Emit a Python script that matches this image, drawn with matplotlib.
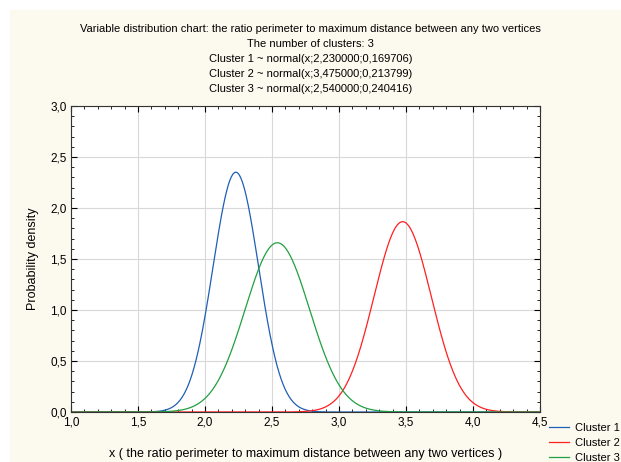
import numpy as np
import matplotlib
matplotlib.use("Agg")
import matplotlib.pyplot as plt
from matplotlib.ticker import MultipleLocator, FuncFormatter
from matplotlib.patches import Rectangle

# cluster parameters as printed in the title
clusters = ["Cluster 1", "Cluster 2", "Cluster 3"]
means = [2.230000, 3.475000, 2.540000]
sds = [0.169706, 0.213799, 0.240416]
colors = ["#1f5fb4", "#ff2020", "#20a040"]

xmin, xmax = 1.0, 4.5
x = np.linspace(xmin, xmax, 700)

plt.rcParams['font.family'] = ['Liberation Sans', 'DejaVu Sans']

fig = plt.figure(figsize=(6.21, 4.62), dpi=100)
fig.patches.append(Rectangle((10 / 621, 0), 611 / 621, 452 / 462,
                             transform=fig.transFigure, color="#fcf9ee", zorder=-10))
ax = fig.add_axes([71 / 621, 1 - 412 / 462, 469 / 621, 306 / 462])
ax.set_facecolor("white")

for name, m, s, c in zip(clusters, means, sds, colors):
    y = np.exp(-0.5 * ((x - m) / s) ** 2) / (s * np.sqrt(2 * np.pi))
    ax.plot(x, y, color=c, lw=0.9, label=name)

ax.set_xlim(xmin, xmax)
ax.set_ylim(0, 3.0)
ax.xaxis.set_major_locator(MultipleLocator(0.5))
ax.yaxis.set_major_locator(MultipleLocator(0.5))
ax.xaxis.set_minor_locator(MultipleLocator(0.1))
ax.yaxis.set_minor_locator(MultipleLocator(0.1))
fmt = FuncFormatter(lambda v, p: f"{v:.1f}".replace(".", ","))
ax.xaxis.set_major_formatter(fmt)
ax.yaxis.set_major_formatter(fmt)
ax.tick_params(which="both", direction="in", top=True, right=True, labelsize=8.5, pad=3)
ax.tick_params(which="major", length=4)
ax.tick_params(which="minor", length=2)
ax.grid(True, which="major", color="#d8d8d8", lw=0.8)
ax.set_axisbelow(True)
for sp in ax.spines.values():
    sp.set_color("#333333")

ax.set_xlabel("x ( the ratio perimeter to maximum distance between any two vertices )", fontsize=9, labelpad=14)
ax.set_ylabel("Probability density", fontsize=9, labelpad=8)

title = ("Variable distribution chart: the ratio perimeter to maximum distance between any two vertices\n"
         "The number of clusters: 3\n"
         + "\n".join(f"{n} ~ normal(x;{m:.6f};{s:.6f})".replace(".", ",")
                     for n, m, s in zip(clusters, means, sds)))
fig.text(0.5, 1 - 24 / 462, title, ha="center", va="top", fontsize=8, linespacing=1.62)

ax.legend(loc="upper left", bbox_to_anchor=(1.008, -0.018), frameon=False, fontsize=8,
          handlelength=1.8, labelspacing=0.45, borderpad=0, handletextpad=0.5)

fig.savefig("out.png", dpi=100)
